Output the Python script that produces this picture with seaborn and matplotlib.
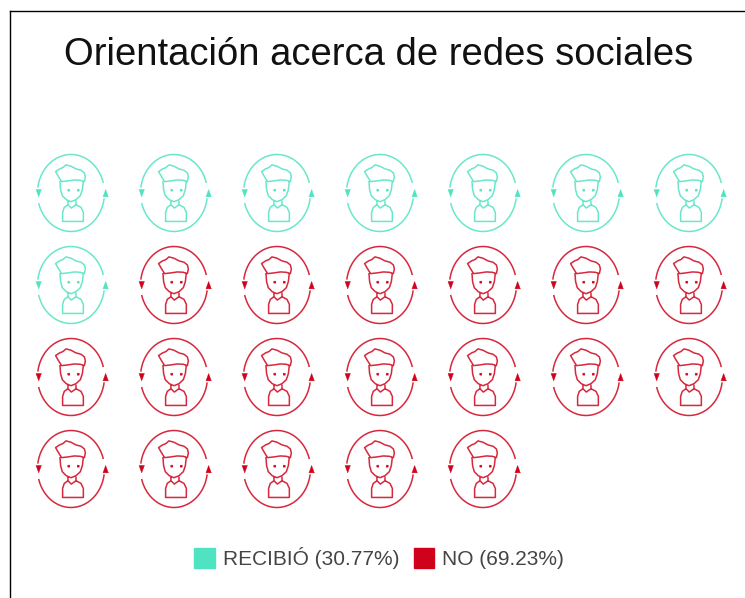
import numpy as np
import pandas as pd
import matplotlib
matplotlib.use("Agg")
import matplotlib.pyplot as plt
import seaborn as sns
from matplotlib.path import Path
from matplotlib.patches import Patch

# data
title = "Orientación acerca de redes sociales"
groups = ["RECIBIÓ", "NO"]
counts = [8, 18]
percents = ["30.77%", "69.23%"]
colors = ["#50E3C2", "#D0021B"]
per_row = 7

sns.set_theme(style="white")
plt.rcParams["font.family"] = ["Liberation Sans", "DejaVu Sans"]

# one row per person, filled left to right
labels = []
for g, c in zip(groups, counts):
    labels += [g] * c
df = pd.DataFrame({"group": labels})
df["col"] = df.index % per_row
df["row"] = df.index // per_row


def pts(lst):
    # icon was traced on a 300px grid centred at (150,160)
    return [((x - 150) / 115, (160 - y) / 115) for x, y in lst]


def add(verts, codes, lst, close=False):
    p = pts(lst)
    verts.extend(p)
    codes.extend([Path.MOVETO] + [Path.LINETO] * (len(p) - 1))
    if close:
        verts.append(p[0])
        codes.append(Path.CLOSEPOLY)


def arc(a0, a1):
    t = np.radians(np.linspace(a0, a1, 50))
    return [(150 + 100 * np.cos(i), 160 - 115 * np.sin(i)) for i in t]


# outline part of the person
line_v, line_c = [], []
add(line_v, line_c, arc(15, 172))
add(line_v, line_c, arc(195, 352))
# hair
add(line_v, line_c, [(104, 96), (116, 88), (126, 84), (135, 76), (150, 80), (165, 88), (180, 92),
                     (190, 100), (193, 112), (190, 126), (178, 122), (160, 121), (140, 124),
                     (122, 126), (112, 110)], close=True)
# face
add(line_v, line_c, [(117, 124), (119, 150), (124, 168), (136, 180), (150, 186), (165, 180),
                     (178, 168), (184, 150), (187, 124)])
# neck and body
add(line_v, line_c, [(141, 183), (141, 195), (151, 205), (165, 195), (165, 183)])
add(line_v, line_c, [(141, 195), (130, 203), (125, 218), (125, 245), (187, 245), (187, 218),
                     (180, 203), (165, 195)])
line_v.append((0, 1.05))
line_c.append(Path.MOVETO)
icon_line = Path(line_v, line_c)

# solid part: two arrow heads and the eyes
fill_v, fill_c = [], []
add(fill_v, fill_c, [(44, 148), (60, 148), (52, 170)], close=True)
add(fill_v, fill_c, [(244, 170), (260, 170), (252, 148)], close=True)
add(fill_v, fill_c, [(139, 147), (145, 147), (145, 153), (139, 153)], close=True)
add(fill_v, fill_c, [(167, 147), (173, 147), (173, 153), (167, 153)], close=True)
fill_v.append((0, 1.05))
fill_c.append(Path.MOVETO)
icon_fill = Path(fill_v, fill_c)

fig = plt.figure(figsize=(7.45, 5.98), dpi=100)
ax = fig.add_axes([10 / 745, 0, 735 / 745, 587 / 598])

for g, col in zip(groups, colors):
    sub = df[df["group"] == g]
    sns.scatterplot(data=sub, x="col", y="row", ax=ax, marker=icon_line, s=3387,
                    facecolors="none", edgecolor=col, linewidth=1.1, alpha=0.85,
                    legend=False, clip_on=False)
    sns.scatterplot(data=sub, x="col", y="row", ax=ax, marker=icon_fill, s=3387,
                    color=col, edgecolor=col, linewidth=0.3, legend=False, clip_on=False)

ax.set_xlim(-0.592, 6.544)
ax.set_ylim(4.402, -1.978)
ax.set_xlabel("")
ax.set_ylabel("")
ax.set_xticks([])
ax.set_yticks([])
sns.despine(ax=ax, top=False, left=False, right=True, bottom=True)
for s in ["top", "left"]:
    ax.spines[s].set_color("black")
    ax.spines[s].set_linewidth(1.0)

fig.text(379 / 745, 1 - 55 / 598, title, ha="center", va="center", fontsize=27.5, color="#111111")

handles = [Patch(facecolor=c, edgecolor=c, label=f"{g} ({p})") for g, p, c in zip(groups, percents, colors)]
ax.legend(handles=handles, ncol=2, loc="center", bbox_to_anchor=(379 / 745, 1 - 558 / 598),
          bbox_transform=fig.transFigure, frameon=False, fontsize=15, labelcolor="#444444",
          handlelength=1.0, handleheight=1.1, handletextpad=0.35, columnspacing=0.7)

fig.savefig("out.png", dpi=100)
